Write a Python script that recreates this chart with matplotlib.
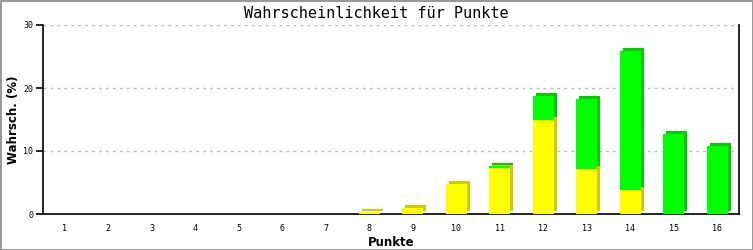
import matplotlib
matplotlib.use("Agg")
import matplotlib.pyplot as plt
import matplotlib.transforms as mtransforms
import numpy as np

# Data
punkte = list(range(1, 17))
gelb = [0, 0, 0, 0, 0, 0, 0, 0.35, 1.0, 4.8, 7.3, 14.9, 7.1, 3.8, 0, 0]
gruen = [0, 0, 0, 0, 0, 0, 0, 0, 0, 0, 0.3, 3.8, 11.1, 22.1, 12.7, 10.8]
yticks = [0, 10, 20, 30]

fig = plt.figure(figsize=(7.53, 2.5), dpi=100)
fig.patch.set_edgecolor("#999999")
fig.patch.set_linewidth(2)
ax = fig.add_axes([43 / 753, 36 / 250, 696 / 753, 189 / 250])

x = np.array(punkte)
gelb = np.array(gelb)
gruen = np.array(gruen)
w = 0.48

# 3D look: darker copy shifted up-right behind the front face
shift = ax.transData + mtransforms.ScaledTranslation(3 / 100, 3 / 100, fig.dpi_scale_trans)
mask_g = gelb > 0
mask_n = gruen > 0
ax.bar(x[mask_g], gelb[mask_g], w, color="#cccc00", transform=shift, zorder=2)
ax.bar(x[mask_n], gruen[mask_n], w, bottom=gelb[mask_n], color="#00cc00", transform=shift, zorder=2)
ax.bar(x[mask_g], gelb[mask_g], w, color="#ffff00", zorder=3)
ax.bar(x[mask_n], gruen[mask_n], w, bottom=gelb[mask_n], color="#00ff00", zorder=4)

ax.set_xlim(0.5, 16.5)
ax.set_ylim(0, 30)
ax.set_yticks(yticks)
ax.set_xticks(punkte)
ax.tick_params(axis="x", length=0, labelsize=6, pad=7)
ax.tick_params(axis="y", length=5, width=1.2, labelsize=6, pad=2)
for lab in ax.get_xticklabels() + ax.get_yticklabels():
    lab.set_family("DejaVu Sans Mono")
ax.yaxis.grid(True, linestyle=(0, (2, 3)), color="#bbbbbb", linewidth=1)
ax.set_axisbelow(True)
ax.spines["top"].set_visible(False)
for s in ["left", "bottom", "right"]:
    ax.spines[s].set_linewidth(1.2)

ax.set_xlabel("Punkte", fontsize=8.5, fontweight="bold", labelpad=2)
ax.set_ylabel("Wahrsch. (%)", fontsize=8.5, fontweight="bold", labelpad=2)
fig.text(0.5, 0.945, "Wahrscheinlichkeit für Punkte", ha="center", va="center",
         fontsize=11, family="DejaVu Sans Mono")

fig.savefig("out.png", dpi=100)
